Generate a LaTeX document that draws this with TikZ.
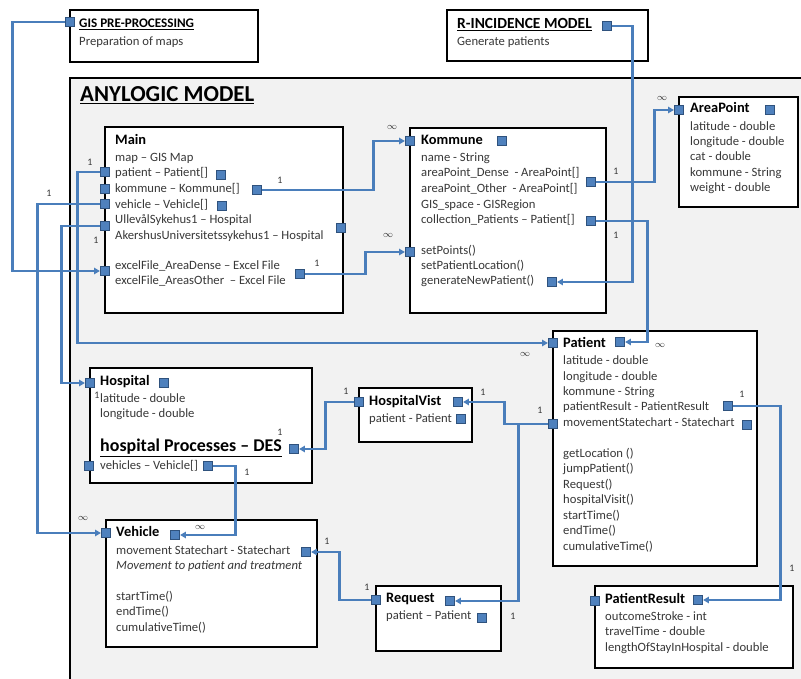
\documentclass[tikz,border=0pt]{standalone}
\usepackage{fontspec}
\setmainfont{Carlito}
\usetikzlibrary{arrows.meta}
\definecolor{linkblue}{RGB}{74,126,187}
\definecolor{portfill}{RGB}{79,129,189}
\definecolor{portdraw}{RGB}{47,82,125}
\definecolor{modelgray}{RGB}{242,242,242}
\definecolor{attrgray}{RGB}{56,56,56}
\tikzset{
  umlbox/.style={draw=black, line width=2pt, fill=white},
  port/.style={draw=portdraw, fill=portfill, line width=0.7pt, minimum size=0.28cm, inner sep=0pt},
  link/.style={draw=linkblue, line width=2pt, -{Triangle[length=5pt,width=5.5pt]}},
  attr/.style={anchor=mid west, inner sep=0pt, font=\fontsize{10.8}{12}\selectfont, text=attrgray},
  classname/.style={anchor=mid west, inner sep=0pt, font=\fontsize{12.3}{14}\selectfont\bfseries},
  mult/.style={inner sep=0pt, font=\fontsize{8.5}{9}\selectfont, text=attrgray},
}
\begin{document}
\begin{tikzpicture}[x=0.03cm, y=-0.03cm]
\useasboundingbox (0,0) rectangle (801,679);
\clip (0,0) rectangle (801,679);
\fill[white] (0,0) rectangle (801,679);
% outer blocks
\draw[umlbox] (70,10) rectangle (258,62);
\node[classname, font=\fontsize{11.2}{13}\selectfont\bfseries] (gisT) at (79,25) {\underline{GIS PRE-PROCESSING}};
\node[attr] (gisA) at (79,43) {Preparation of maps};
\draw[umlbox] (447,10) rectangle (648,61);
\node[classname, font=\fontsize{13.2}{15}\selectfont\bfseries] (rincT) at (457,26) {\underline{R-INCIDENCE MODEL}};
\node[attr] (rincA) at (457,43) {Generate patients};
\draw[line width=2pt, fill=modelgray] (70,78) rectangle (820,700);
\node[classname, font=\fontsize{19.5}{22}\selectfont\bfseries] (modelT) at (80,99) {\underline{ANYLOGIC MODEL}};
% classes
\draw[umlbox] (105,127) rectangle (343,313);
\node[classname] (mainT) at (115,142) {Main};
\foreach \y/\t [count=\i] in {159/map – GIS Map, 174/patient – Patient[], 190/kommune – Kommune[],
  206/vehicle – Vehicle[], 221/UllevålSykehus1 – Hospital, 237/AkershusUniversitetssykehus1 – Hospital,
  267/excelFile\_AreaDense – Excel File, 282/excelFile\_AreasOther\ \ – Excel File}
  \node[attr] (main-\i) at (115,\y) {\t};
\draw[umlbox] (410,128) rectangle (606,313);
\node[classname] (komT) at (421,142) {Kommune};
\foreach \y/\t [count=\i] in {159/name - String, 174/areaPoint\_Dense\ \ - AreaPoint[], 190/areaPoint\_Other\ \ - AreaPoint[],
  206/GIS\_space - GISRegion, 221/collection\_Patients – Patient[], 252/setPoints(),
  267/setPatientLocation(), 282/generateNewPatient()}
  \node[attr] (kom-\i) at (421,\y) {\t};
\draw[umlbox] (679,97) rectangle (798,207);
\node[classname] (apT) at (690,110) {AreaPoint};
\foreach \y/\t [count=\i] in {128/latitude - double, 143/longitude - double, 158/cat - double,
  174/kommune - String, 189/weight - double}
  \node[attr] (ap-\i) at (690,\y) {\t};
\draw[umlbox] (553,331) rectangle (757,566);
\node[classname] (patT) at (563,345) {Patient};
\foreach \y/\t [count=\i] in {362/latitude - double, 378/longitude - double, 393/kommune - String,
  408/patientResult - PatientResult, 424/movementStatechart - Statechart, 455/getLocation (),
  470/jumpPatient(), 486/Request(), 501/hospitalVisit(), 517/startTime(), 532/endTime(), 548/cumulativeTime()}
  \node[attr] (pat-\i) at (563,\y) {\t};
\draw[umlbox] (595,586) rectangle (793,668);
\node[classname] (prT) at (605,601) {PatientResult};
\foreach \y/\t [count=\i] in {618/outcomeStroke - int, 633/travelTime - double, 649/lengthOfStayInHospital - double}
  \node[attr] (pr-\i) at (605,\y) {\t};
\draw[umlbox] (90,368) rectangle (312,483);
\node[classname] (hospT) at (100,383) {Hospital};
\node[attr] (hosp-1) at (100,400) {latitude - double};
\node[attr] (hosp-2) at (100,415) {longitude - double};
\node[classname, font=\fontsize{15.3}{17}\selectfont\bfseries] (hosp-3) at (100,449) {\underline{hospital Processes – DES}};
\node[attr] (hosp-4) at (100,467) {vehicles – Vehicle[]};
\draw[umlbox] (359,388) rectangle (472,442);
\node[classname] (hvT) at (369,403) {HospitalVist};
\node[attr] (hv-1) at (369,420) {patient - Patient};
\draw[umlbox] (106,520) rectangle (317,647);
\node[classname] (vehT) at (116,534) {Vehicle};
\foreach \y/\t [count=\i] in {552/movement Statechart - Statechart, 567/\textit{Movement to patient and treatment},
  598/startTime(), 613/endTime(), 629/cumulativeTime()}
  \node[attr] (veh-\i) at (116,\y) {\t};
\draw[umlbox] (376,586) rectangle (501,651);
\node[classname] (reqT) at (386,600) {Request};
\node[attr] (req-1) at (386,617) {patient – Patient};
% ports
\foreach \n/\x/\y in {gisP/70/22, rincP/607/26, mainPat/105/172, mainKom/105/189, mainVeh/105/204,
  mainHosp/105/226, mainXls/105/271, mainPatIn/221/175, mainKomIn/257/190, mainVehIn/222/206,
  mainAk/341/228, mainXlsOut/300/274, komIn/410/141, komTitle/502/141, komSet/410/252,
  komDense/591/182, komColl/591/221, komGen/552/282, apIn/679/110, apTitle/770/110,
  patIn/553/343, patTitle/620/342, patMove/553/424, patRes/728/406, patMoveIn/747/425,
  prIn/595/601, prTitle/698/600, hospIn/90/383, hospTitle/164/383, hospDes/294/449,
  hospVehL/89/466, hospVeh/208/466, hvIn/359/402, hvTitle/458/402, hvPat/461/419,
  vehIn/106/533, vehTitle/175/535, vehMove/306/552, reqIn/376/600, reqTitle/450/601, reqPat/482/618}
  \node[port] (\n) at (\x,\y) {};
% connectors
\draw[link] (gisP.west) -- ++(-52.5,0) |- (mainXls.west);
\draw[link] (mainPat.west) -- ++(-22.5,0) |- (patIn.west);
\draw[link] (mainVeh.west) -- ++(-62.5,0) |- (vehIn.west);
\draw[link] (mainHosp.west) -- ++(-38.5,0) |- (hospIn.west);
\draw[link] (mainKomIn.east) -- ++(111.5,0) |- (komIn.west);
\draw[link] (mainXlsOut.east) -- ++(60.5,0) |- (komSet.west);
\draw[link] (rincP.east) -- ++(20.5,0) |- (komGen.east);
\draw[link] (komDense.east) -- ++(58.5,0) |- (apIn.west);
\draw[link] (komColl.east) -- ++(51.5,0) |- (patTitle.east);
\draw[link] (patMove.west) -- ++(-43.5,0) |- (hvTitle.east);
\draw[link] (patMove.west) -- ++(-29.5,0) |- (reqTitle.east);
\draw[link] (hvIn.west) -- ++(-28.5,0) |- (hospDes.east);
\draw[link] (hospVeh.east) -- ++(22.5,0) |- (vehTitle.east);
\draw[link] (reqIn.west) -- ++(-31.5,0) |- (vehMove.east);
\draw[link] (patRes.east) -- ++(47.5,0) |- (prTitle.east);
% multiplicities
\foreach \x/\y/\m [count=\i] in {90/162/1, 49/193/1, 96/240/1, 83/518/$\infty$, 200/527/$\infty$,
  280/180/1, 392/127/$\infty$, 317/263/1, 388/235/$\infty$, 616/171/1, 616/235/1, 662/98/$\infty$,
  660/345/$\infty$, 525/354/$\infty$, 483/392/1, 540/410/1, 742/394/1, 792/568/1, 513/616/1,
  97/395/1, 280/432/1, 247/472/1, 346/391/1, 327/541/1, 367/587/1}
  \node[mult] (m\i) at (\x,\y) {\m};
\end{tikzpicture}
\end{document}
